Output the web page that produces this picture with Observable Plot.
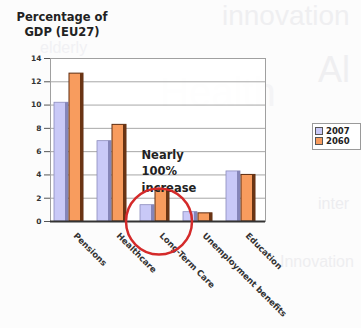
<!DOCTYPE html>
<html>
<head>
<meta charset="utf-8">
<script src="https://cdn.jsdelivr.net/npm/d3@7"></script>
<script src="https://cdn.jsdelivr.net/npm/@observablehq/plot@0.6"></script>
<style>
  body { margin: 0; background: #fff; }
  #wrap { position: relative; width: 361px; height: 328px; overflow: hidden; font-family: "DejaVu Sans", sans-serif; background: #fcfcfc; }
  .bg { position: absolute; white-space: nowrap; font-family: "Liberation Sans", sans-serif; line-height: 1; }
  #chart { position: absolute; left: 0; top: 0; }
  #title { position: absolute; left: 0px; top: 10px; width: 124px; text-align: center; font-weight: bold; font-size: 11.5px; line-height: 15px; color: #222; }
  #legend { position: absolute; left: 312px; top: 123px; width: 47px; height: 25px; border: 1px solid #9a9a9a; background: #fff; font-size: 8.5px; font-weight: bold; color: #222; overflow: hidden; }
  .item { position: absolute; left: 2px; height: 10px; line-height: 9px; white-space: nowrap; }
  .sw { display: inline-block; width: 6px; height: 6px; border: 1px solid #555; margin-right: 3px; vertical-align: -1px; }
</style>
</head>
<body>
<div id="wrap">
  <div class="bg" style="left:222px;top:2px;font-size:28px;color:#efeff1">innovation</div>
  <div class="bg" style="left:40px;top:40px;font-size:16px;color:#f1f1f4">elderly</div>
  <div class="bg" style="left:160px;top:72px;font-size:40px;color:#f4f4f6">Health</div>
  <div class="bg" style="left:318px;top:52px;font-size:36px;color:#efeff1">Al</div>
  <div class="bg" style="left:318px;top:196px;font-size:16px;color:#ededf0">inter</div>
  <div class="bg" style="left:280px;top:254px;font-size:16px;color:#eeeef0">Innovation</div>
  <div id="chart"></div>
  <div id="title">Percentage of<br>GDP (EU27)</div>
  <div id="legend">
    <div class="item" style="top:3px"><span class="sw" style="background:#c9c9f7"></span>2007</div>
    <div class="item" style="top:13px"><span class="sw" style="background:#f89c5e"></span>2060</div>
  </div>
</div>
<script>
// Public expenditure by category, share of GDP, EU27
const categories = ["Pensions", "Healthcare", "Long-Term Care", "Unemployment benefits", "Education"];
const values2007 = [10.2, 6.9, 1.4, 0.8, 4.3];
const values2060 = [12.7, 8.3, 2.7, 0.7, 4.0];
const yTicks = [0, 2, 4, 6, 8, 10, 12, 14];
const note = "Nearly\n100%\nincrease";
const noteCategory = "Long-Term Care";

const rows2007 = categories.map((c, i) => ({category: c, value: values2007[i]}));
const rows2060 = categories.map((c, i) => ({category: c, value: values2060[i]}));

const W = 361, H = 328, mL = 50, mR = 96, mT = 58, mB = 107;
const padIn = 0.33, padOut = 0.148, align = 0.27;
const bw = d3.scaleBand().domain(categories).range([mL, W - mR])
  .paddingInner(padIn).paddingOuter(padOut).align(align).bandwidth();
const half = bw / 2;
const side = 3;

const chart = Plot.plot({
  width: W, height: H,
  marginLeft: mL, marginRight: mR, marginTop: mT, marginBottom: mB,
  style: {background: "transparent", fontFamily: "DejaVu Sans, sans-serif"},
  x: {domain: categories, paddingInner: padIn, paddingOuter: padOut, align, label: null},
  y: {domain: [0, 14], label: null},
  marks: [
    Plot.frame({fill: "#fff", fillOpacity: 0.85, stroke: "none"}),
    Plot.gridY(yTicks, {stroke: "#8a8a8a", strokeOpacity: 0.75}),
    Plot.frame({stroke: "#a0a0a0"}),
    // 2007 column: face plus shaded side
    Plot.barY(rows2007, {x: "category", y: "value", fill: "#c9c9f7", stroke: "#8c8cbc", strokeWidth: 0.8, insetRight: half + 0.5}),
    Plot.barY(rows2007, {x: "category", y: "value", fill: "#8585b8", insetLeft: half - side - 0.5, insetRight: half + 0.5}),
    // 2060 column: face plus shaded side
    Plot.barY(rows2060, {x: "category", y: "value", fill: "#f89c5e", stroke: "#5e2c10", strokeWidth: 1, insetLeft: half + 0.5}),
    Plot.barY(rows2060, {x: "category", y: "value", fill: "#6a3414", insetLeft: bw - side}),
    Plot.ruleY([0], {stroke: "#333", strokeWidth: 2}),
    Plot.axisY(yTicks, {tickSize: 6, tickPadding: 3, fontSize: 7.5, fontWeight: "bold", fill: "#333", stroke: "#555", label: null}),
    Plot.axisX({tickSize: 0, tickRotate: 45, textAnchor: "start", dx: 6, dy: 1, fontSize: 8.5, fontWeight: "bold", fill: "#333", label: null}),
    // highlight on long-term care
    Plot.text([note], {x: () => noteCategory, y: () => 4.4, text: d => d, textAnchor: "start", lineAnchor: "middle", lineHeight: 1.4, dx: -half + 1, fontSize: 11.5, fontWeight: "bold", fill: "#222"}),
    Plot.dot([noteCategory], {x: d => d, y: () => 0, r: 33, dx: 4, stroke: "#d42a2a", strokeWidth: 2.5, fill: "none"})
  ]
});
document.getElementById("chart").appendChild(chart);
</script>
</body>
</html>
